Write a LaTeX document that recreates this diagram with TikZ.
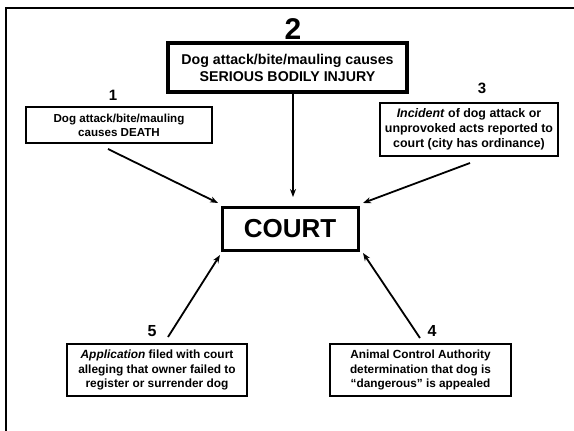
\documentclass[tikz,border=0pt]{standalone}
\usepackage{fontspec}
\setmainfont{Liberation Sans}
\usetikzlibrary{arrows.meta,calc}

\begin{document}
\begin{tikzpicture}[x=1pt,y=-1pt,
  every node/.style={font=\bfseries, inner sep=0pt, outer sep=0pt},
  srcbox/.style={draw, line width=1.5pt, align=center, anchor=center},
  numlabel/.style={font=\bfseries\fontsize{15}{15}\selectfont},
  arr/.style={line width=1.8pt, -{Stealth[length=8pt,width=6pt]}}
]
\useasboundingbox (0,0) rectangle (574,431);

% outer frame (top and left edges)
\draw[line width=2.2pt] (6,431) -- (6,8) -- (574,8);

% central node
\node[draw, line width=3pt, minimum width=136pt, minimum height=43pt,
      font=\bfseries\fontsize{26}{26}\selectfont] (court) at (290,228.5) {COURT};

% source boxes
\node[srcbox, minimum width=186pt, minimum height=36pt,
      font=\bfseries\fontsize{11.6}{14}\selectfont] (b1) at (119,125)
  {Dog attack/bite/mauling\\causes DEATH};
\node[srcbox, line width=4pt, minimum width=239pt, minimum height=49pt,
      font=\bfseries\fontsize{14.2}{17}\selectfont] (b2) at (287.5,67.5)
  {Dog attack/bite/mauling causes\\SERIOUS BODILY INJURY};
\node[srcbox, minimum width=178pt, minimum height=53pt,
      font=\bfseries\fontsize{12.4}{15}\selectfont] (b3) at (469,129.5)
  {\textit{Incident} of dog attack or\\unprovoked acts reported to\\court (city has ordinance)};
\node[srcbox, minimum width=180pt, minimum height=52pt,
      font=\bfseries\fontsize{11.9}{14.3}\selectfont] (b5) at (157,370)
  {\textit{Application} filed with court\\alleging that owner failed to\\register or surrender dog};
\node[srcbox, minimum width=181pt, minimum height=52pt,
      font=\bfseries\fontsize{11.8}{14.3}\selectfont] (b4) at (420.5,370)
  {Animal Control Authority\\determination that dog is\\“dangerous” is appealed};

% numbers
\node[font=\bfseries\fontsize{30}{30}\selectfont] (n2) at (293,29) {2};
\node[numlabel] (n1) at (113,95) {1};
\node[numlabel] (n3) at (482,88) {3};
\node[numlabel, font=\bfseries\fontsize{16}{16}\selectfont] (n5) at (152,331) {5};
\node[numlabel, font=\bfseries\fontsize{16}{16}\selectfont] (n4) at (432,331) {4};

% connector ends
\coordinate (s1) at ($(b1.south)+(-11,6)$);
\coordinate (s2) at ($(b2.south)+(5.5,1)$);
\coordinate (s3) at ($(b3.south)+(1,7)$);
\coordinate (s5) at ($(b5.north)+(11,-7)$);
\coordinate (s4) at ($(b4.north)+(-0.5,-6)$);
\coordinate (t1) at ($(court.north west)+(-4,-4)$);
\coordinate (t2) at ($(s2 |- court.north)+(0,-10)$);
\coordinate (t3) at ($(court.north east)+(5,-4)$);
\coordinate (t5) at ($(court.south west)+(-2,5)$);
\coordinate (t4) at ($(court.south east)+(5,3)$);

% connectors
\draw[arr] (s1) -- (t1);
\draw[arr] (s2) -- (t2);
\draw[arr] (s3) -- (t3);
\draw[arr] (s5) -- (t5);
\draw[arr] (s4) -- (t4);
\end{tikzpicture}
\end{document}
